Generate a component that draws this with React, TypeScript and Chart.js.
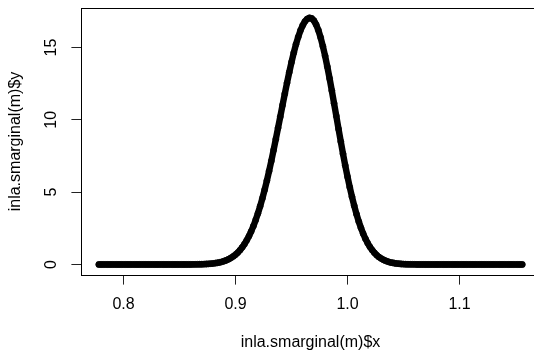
import { useEffect, useRef } from "react";
import { Chart, registerables } from "chart.js";

Chart.register(...registerables);

// x values of the marginal density points
const margX = [
  0.778, 0.780, 0.782, 0.784, 0.786, 0.788, 0.790, 0.792, 0.794, 0.796, 0.798, 0.800,
  0.802, 0.804, 0.806, 0.808, 0.810, 0.812, 0.814, 0.816, 0.818, 0.820, 0.822, 0.824,
  0.826, 0.828, 0.830, 0.832, 0.834, 0.836, 0.838, 0.840, 0.842, 0.844, 0.846, 0.848,
  0.850, 0.852, 0.854, 0.856, 0.858, 0.860, 0.862, 0.864, 0.866, 0.868,
  0.870, 0.872, 0.874, 0.876, 0.878, 0.880, 0.882, 0.884, 0.886, 0.888, 0.890, 0.892,
  0.894, 0.896, 0.898, 0.900, 0.902, 0.904, 0.906, 0.908, 0.910, 0.912, 0.914, 0.916,
  0.918, 0.920, 0.922, 0.924, 0.926, 0.928, 0.930, 0.932, 0.934, 0.936, 0.938, 0.940,
  0.942, 0.944, 0.946, 0.948, 0.950, 0.952, 0.954, 0.956, 0.958, 0.960, 0.962, 0.964,
  0.966, 0.968, 0.970, 0.972, 0.974, 0.976, 0.978, 0.980, 0.982, 0.984, 0.986, 0.988,
  0.990, 0.992, 0.994, 0.996, 0.998, 1.000, 1.002, 1.004, 1.006, 1.008, 1.010, 1.012,
  1.014, 1.016, 1.018, 1.020, 1.022, 1.024, 1.026, 1.028, 1.030, 1.032, 1.034, 1.036,
  1.038, 1.040, 1.042, 1.044, 1.046, 1.048, 1.050, 1.052, 1.054, 1.056, 1.058, 1.060,
  1.062, 1.064, 1.066, 1.068, 1.070, 1.072, 1.074, 1.076, 1.078, 1.080, 1.082, 1.084,
  1.086, 1.088, 1.090, 1.092, 1.094, 1.096, 1.098, 1.100, 1.102, 1.104, 1.106, 1.108,
  1.110, 1.112, 1.114, 1.116, 1.118, 1.120, 1.122, 1.124, 1.126, 1.128, 1.130, 1.132,
  1.134, 1.136, 1.138, 1.140, 1.142, 1.144, 1.146, 1.148, 1.150, 1.152, 1.154, 1.156,
];

// density values at those points
const margY = [
  0, 0, 0, 0, 0, 0, 0, 0, 0, 0, 0, 0,
  0, 0, 0, 0, 0, 0, 0, 0, 0, 0, 0, 0,
  0, 0, 0, 0, 0, 0, 0, 0, 0, 0, 0, 0,
  0, 0.001, 0.002, 0.002, 0.003, 0.004, 0.006, 0.008, 0.011, 0.015,
  0.019, 0.026, 0.034, 0.044, 0.057, 0.073, 0.094, 0.12, 0.15, 0.19, 0.24, 0.30,
  0.37, 0.46, 0.56, 0.68, 0.82, 0.99, 1.19, 1.41, 1.67, 1.96, 2.29, 2.66,
  3.07, 3.53, 4.03, 4.57, 5.16, 5.79, 6.46, 7.16, 7.90, 8.66, 9.44, 10.22,
  11.01, 11.79, 12.55, 13.29, 13.98, 14.63, 15.22, 15.73, 16.18, 16.53, 16.80, 16.97,
  17.05, 17.01, 16.86, 16.58, 16.19, 15.69, 15.09, 14.42, 13.67, 12.86, 12.02, 11.14,
  10.26, 9.37, 8.50, 7.65, 6.84, 6.07, 5.35, 4.68, 4.06, 3.49, 2.98, 2.53,
  2.13, 1.78, 1.48, 1.22, 1.00, 0.81, 0.65, 0.52, 0.42, 0.33, 0.26, 0.20,
  0.15, 0.12, 0.089, 0.067, 0.051, 0.038, 0.028, 0.020, 0.015, 0.011, 0.008, 0.006,
  0.004, 0.003, 0.002, 0.002, 0.001, 0.001, 0, 0, 0, 0, 0, 0,
  0, 0, 0, 0, 0, 0, 0, 0, 0, 0, 0, 0,
  0, 0, 0, 0, 0, 0, 0, 0, 0, 0, 0, 0,
  0, 0, 0, 0, 0, 0, 0, 0, 0, 0, 0, 0,
];

const xTickValues = [0.8, 0.9, 1.0, 1.1];
const xTickLabels = ["0.8", "0.9", "1.0", "1.1"];
const yTickValues = [0, 5, 10, 15];
const yTickLabels = ["0", "5", "10", "15"];
const xTitle = "inla.smarginal(m)$x";
const yTitle = "inla.smarginal(m)$y";

const FAMILY = "'Liberation Sans', Arial, Helvetica, sans-serif";

const boxPlugin = {
  id: "rbox",
  afterDraw(chart: any) {
    const { ctx, chartArea: a } = chart;
    ctx.save();
    ctx.strokeStyle = "#000";
    ctx.lineWidth = 1;
    ctx.beginPath();
    ctx.moveTo(a.left, a.top + 0.5);
    ctx.lineTo(a.right - 0.5, a.top + 0.5);
    ctx.lineTo(a.right - 0.5, a.bottom);
    ctx.stroke();
    ctx.restore();
  },
};

export default function App() {
  const ref = useRef<HTMLCanvasElement>(null);

  useEffect(() => {
    if (!ref.current) return;
    const font = { family: FAMILY, size: 16 };
    const chart = new Chart(ref.current, {
      type: "scatter",
      data: {
        datasets: [
          {
            data: margX.map((x, i) => ({ x, y: margY[i] })),
            showLine: true,
            borderColor: "#000",
            borderWidth: 6.4,
            borderJoinStyle: "round",
            borderCapStyle: "round",
            pointRadius: 3,
            pointBorderWidth: 1,
            pointBorderColor: "rgba(0,0,0,0.85)",
            pointBackgroundColor: "rgba(0,0,0,0)",
            tension: 0,
          } as any,
        ],
      },
      options: {
        responsive: false,
        animation: false,
        events: [],
        layout: { padding: { top: 8, right: 5, left: 0, bottom: 0 } },
        plugins: {
          legend: { display: false },
          tooltip: { enabled: false },
        },
        scales: {
          x: {
            type: "linear",
            position: "bottom",
            bounds: "data",
            min: 0.762054,
            max: 1.171875,
            afterBuildTicks: (s: any) => {
              s.ticks = xTickValues.map((v) => ({ value: v }));
            },
            afterFit: (s: any) => {
              s.height = 80;
              s.paddingLeft = 0;
              s.paddingRight = 0;
            },
            ticks: {
              callback: (_v: any, i: number) => xTickLabels[i],
              font,
              color: "#000",
              padding: 10.3,
              minRotation: 0,
              maxRotation: 0,
              autoSkip: false,
            },
            grid: {
              drawOnChartArea: false,
              drawTicks: true,
              tickLength: 9.6,
              color: "#222",
              lineWidth: 1,
            },
            border: { display: true, color: "#000", width: 1 },
            title: {
              display: true,
              text: xTitle,
              font,
              color: "#000",
              padding: { top: 0, bottom: 3.3 },
            },
          },
          y: {
            type: "linear",
            position: "left",
            bounds: "data",
            min: -0.7258,
            max: 17.73,
            afterBuildTicks: (s: any) => {
              s.ticks = yTickValues.map((v) => ({ value: v }));
            },
            afterFit: (s: any) => {
              s.width = 81;
              s.paddingTop = 0;
              s.paddingBottom = 0;
            },
            ticks: {
              callback: (_v: any, i: number) => yTickLabels[i],
              font,
              color: "#000",
              padding: 10.8,
              minRotation: 90,
              maxRotation: 90,
              crossAlign: "center",
              autoSkip: false,
            },
            grid: {
              drawOnChartArea: false,
              drawTicks: true,
              tickLength: 9.6,
              color: "#222",
              lineWidth: 1,
            },
            border: { display: true, color: "#000", width: 1 },
            title: {
              display: true,
              text: yTitle,
              font,
              color: "#000",
              padding: { top: 6.4, bottom: 0 },
            },
          },
        },
      } as any,
      plugins: [boxPlugin],
    });
    return () => chart.destroy();
  }, []);

  return (
    <div
      style={{
        position: "fixed",
        left: 0,
        top: 0,
        width: 534,
        height: 350,
        overflow: "hidden",
        background: "#fff",
      }}
    >
      <canvas ref={ref} width={545} height={355} style={{ display: "block" }} />
    </div>
  );
}
